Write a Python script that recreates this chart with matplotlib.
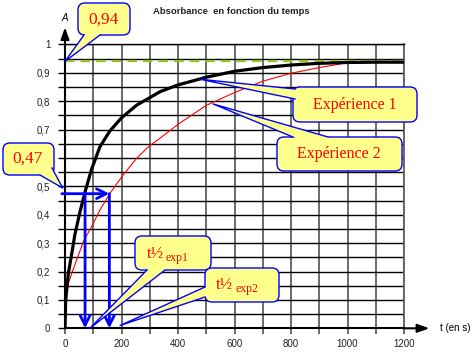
import matplotlib
matplotlib.use("Agg")
import matplotlib.pyplot as plt
from matplotlib.patches import FancyBboxPatch, Polygon
from matplotlib.lines import Line2D
from matplotlib.transforms import IdentityTransform

W, H = 474, 356

title = "Absorbance  en fonction du temps"

# Expérience 1 (courbe noire épaisse)
t_exp1 = [0, 2.5, 6, 12, 24, 35, 53, 71, 94, 124, 159, 200, 254, 300, 336,
          400, 500, 600, 700, 800, 900, 1000, 1100, 1200]
a_exp1 = [0, 0.10, 0.135, 0.194, 0.264, 0.33, 0.41, 0.48, 0.56, 0.64, 0.695,
          0.741, 0.786, 0.812, 0.833, 0.857, 0.884, 0.905, 0.918, 0.927,
          0.933, 0.936, 0.937, 0.937]

# Expérience 2 (courbe rouge fine)
t_exp2 = [0, 2, 6, 12, 24, 41, 65, 94, 124, 159, 206, 254, 295, 336, 400,
          500, 600, 700, 800, 900, 1000, 1125]
a_exp2 = [0, 0.06, 0.13, 0.158, 0.194, 0.24, 0.305, 0.358, 0.417, 0.475,
          0.54, 0.599, 0.639, 0.669, 0.718, 0.785, 0.83, 0.87, 0.898, 0.918,
          0.935, 0.937]

a_inf = 0.94
a_half = 0.474
t_half = [71, 157]

x_ticks = [0, 200, 400, 600, 800, 1000, 1200]
y_ticks = [0, 0.1, 0.2, 0.3, 0.4, 0.5, 0.6, 0.7, 0.8, 0.9, 1.0]
y_labels = ["0", "0,1", "0,2", "0,3", "0,4", "0,5", "0,6", "0,7", "0,8", "0,9", "1"]

YELLOW = "#ffff8c"
BLUE = "#0000ff"
RED = "#ff0000"
SERIF = ["Liberation Serif", "DejaVu Serif"]

fig = plt.figure(figsize=(W / 100, H / 100), dpi=100)
fig.patch.set_facecolor("white")
ax = fig.add_axes([65 / W, (H - 328.3) / H, 339 / W, 284 / H])
ax.set_xlim(0, 1200)
ax.set_ylim(0, 1)

# grille : verticales grises tous les 100 s, horizontales noires tous les 0,05
ax.set_xticks(x_ticks)
ax.set_xticks(range(100, 1200, 200), minor=True)
ax.set_yticks(y_ticks)
ax.set_yticklabels(y_labels)
ax.set_yticks([v / 100 for v in range(5, 100, 10)], minor=True)
ax.set_axisbelow(True)
ax.grid(True, axis="x", which="both", color="#606060", lw=1.3)
ax.grid(True, axis="y", which="both", color="black", lw=1.0)
ax.tick_params(axis="x", which="both", length=4.5, width=1.3, color="#606060",
               labelsize=7, pad=3, labelcolor="#222222")
ax.tick_params(axis="y", which="both", length=5, width=1.0, color="black",
               labelsize=7, pad=5.5, labelcolor="#222222")
for lab in ax.get_xticklabels() + ax.get_yticklabels():
    lab.set_family(["Liberation Sans", "DejaVu Sans"])
# le "0,6" est caché par la bulle 0,47 sur l'original
ax.get_yticklabels()[6].set_visible(False)
ax.spines["top"].set_color("black")
ax.spines["top"].set_linewidth(1.0)
ax.spines["right"].set_color("#606060")
ax.spines["right"].set_linewidth(1.3)
ax.spines["left"].set_linewidth(1.5)
ax.spines["bottom"].set_linewidth(1.5)

# asymptote
ax.axhline(a_inf, color="#9cc21a", lw=1.7, ls=(0, (4, 2.6)), zorder=2)

ax.plot(t_exp2, a_exp2, color=RED, lw=0.8, zorder=3)
ax.plot(t_exp1, a_exp1, color="black", lw=2.3, zorder=4,
        solid_joinstyle="round")

# flèches des axes
ax.annotate("", xy=(0, 1.06), xytext=(0, 1.0), annotation_clip=False,
            arrowprops=dict(arrowstyle="-|>,head_length=0.7,head_width=0.25",
                            color="black", lw=1.5, shrinkA=0, shrinkB=0))
ax.annotate("", xy=(1290, 0), xytext=(1200, 0), annotation_clip=False,
            arrowprops=dict(arrowstyle="-|>,head_length=0.7,head_width=0.25",
                            color="black", lw=1.5, shrinkA=0, shrinkB=0))
ax.text(0, 1.093, "A", ha="center", va="center", fontsize=7, style="italic",
        family=["Liberation Sans", "DejaVu Sans"], clip_on=False)
ax.text(1327, 0, "t (en s)", ha="left", va="center", fontsize=7,
        family=["Liberation Sans", "DejaVu Sans"], clip_on=False)

fig.text(231 / W, 1 - 12 / H, title, ha="center", va="center", fontsize=6.8,
         weight="bold", color="#222222", family=["Liberation Sans", "DejaVu Sans"])

# flèches bleues de la demi-réaction
arrow_kw = dict(arrowstyle="->,head_length=0.7,head_width=0.35", color=BLUE,
                lw=2.0, shrinkA=0, shrinkB=0)
ax.annotate("", xy=(t_half[1], a_half), xytext=(-11, a_half),
            annotation_clip=False, arrowprops=arrow_kw, zorder=5)
for th in t_half:
    ax.annotate("", xy=(th, 0), xytext=(th, a_half), annotation_clip=False,
                arrowprops=arrow_kw, zorder=5)

ident = IdentityTransform()


def disp(x, y):
    # pixels comptés depuis le coin haut gauche -> coordonnées d'affichage
    return (x, H - y)


def callout(box, base, tip):
    x, y, w, h = box
    fig.add_artist(FancyBboxPatch(disp(x, y + h), w, h,
                                  boxstyle="round,pad=0,rounding_size=7",
                                  transform=ident, fc=YELLOW, ec=BLUE, lw=1.0,
                                  zorder=6))
    tip_d = ax.transData.transform(tip)
    cx, cy = x + w / 2, y + h / 2
    b1, b2 = base
    inner = []
    for bx, by in (b2, b1):
        dx, dy = cx - bx, cy - by
        n = (dx * dx + dy * dy) ** 0.5
        inner.append(disp(bx + 3 * dx / n, by + 3 * dy / n))
    pts = [disp(*b1), tuple(tip_d), disp(*b2)] + inner
    fig.add_artist(Polygon(pts, closed=True, transform=ident, fc=YELLOW,
                           ec="none", zorder=6))
    p1, p2 = disp(*b1), disp(*b2)
    fig.add_artist(Line2D([p1[0], tip_d[0], p2[0]], [p1[1], tip_d[1], p2[1]],
                          transform=ident, color=BLUE, lw=1.0, zorder=6))


def label(x, y, s, size, **kw):
    fig.text(*disp(x, y), s, transform=ident, ha="center", va="center",
             color=RED, fontsize=size, family=SERIF, zorder=7, **kw)


callout((78, 3, 52, 32), [(84, 35), (100, 35)], (0, a_inf))
label(104, 20, "0,94", 12.5)

callout((3, 143, 51, 32), [(40, 175), (52, 168)], (-8, 0.494))
label(28, 159, "0,47", 12.5)

callout((135, 236, 76, 34), [(147, 270), (165, 270)], (88, 0))
fig.text(*disp(147, 254), "t½", transform=ident, ha="left", va="center",
         color=RED, fontsize=12, family=SERIF, zorder=7)
fig.text(*disp(166, 258), "exp1", transform=ident, ha="left", va="center",
         color=RED, fontsize=8.5, family=SERIF, zorder=7)

callout((205, 268, 74, 34), [(205, 287), (205, 297)], (195, 0.01))
fig.text(*disp(216, 285), "t½", transform=ident, ha="left", va="center",
         color=RED, fontsize=12, family=SERIF, zorder=7)
fig.text(*disp(236, 289), "exp2", transform=ident, ha="left", va="center",
         color=RED, fontsize=8.5, family=SERIF, zorder=7)

callout((293, 87, 124, 35), [(295, 89), (295, 99)], (478, 0.877))
label(355, 105, "Expérience 1", 11.5)

callout((277, 137, 125, 34), [(293, 137), (328, 137)], (524, 0.79))
label(339, 154, "Expérience 2", 11.5)

fig.savefig("out.png", dpi=100)
